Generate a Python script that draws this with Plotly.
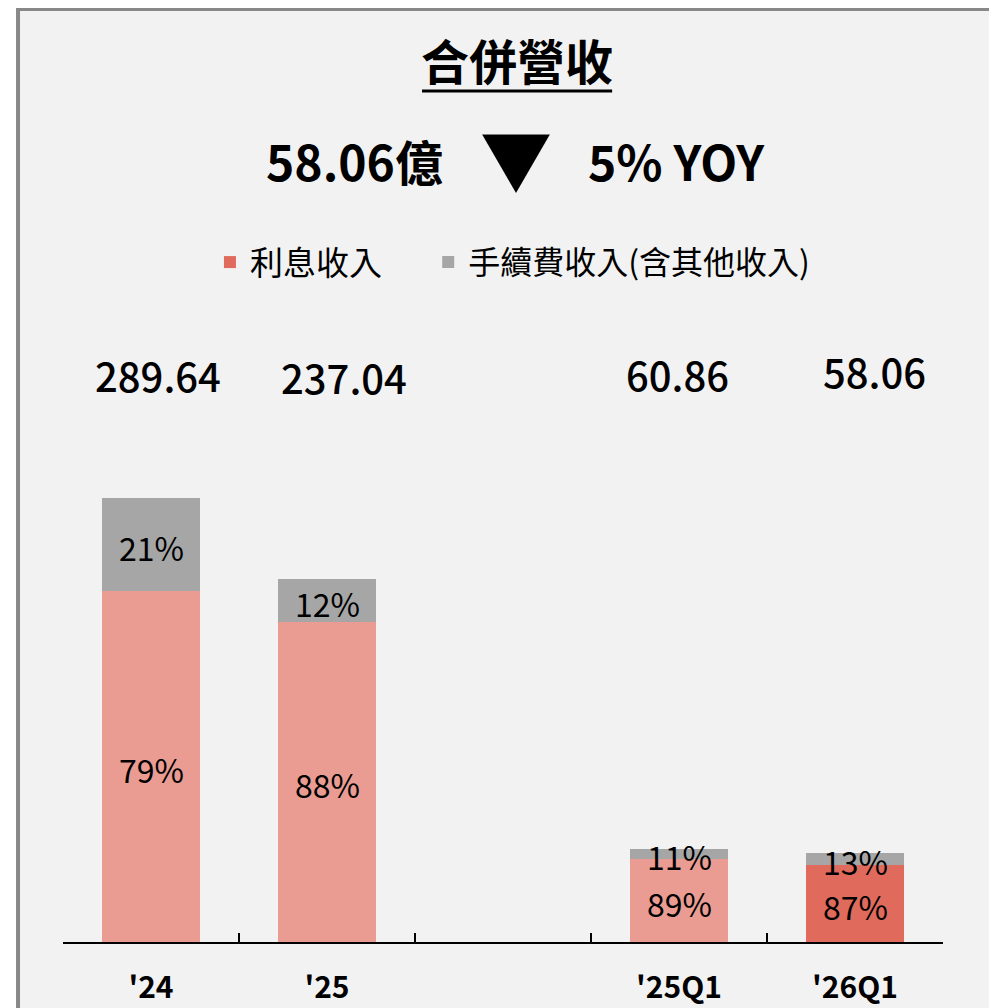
import plotly.graph_objects as go


CATEGORIES = ["'24", "'25", " ", "'25Q1", "'26Q1"]
TOTALS = [289.64, 237.04, None, 60.86, 58.06]
INTEREST_SHARE = [79, 88, None, 89, 87]
FEE_SHARE = [21, 12, None, 11, 13]

HEADLINE_VALUE = "58.06億"
HEADLINE_YOY = "5% YOY"

FONT = "Noto Sans CJK TC"
TOTAL_XSHIFT = [7, 17, 0, -2, 19]  # labels sit a little off-centre in the original
TOTAL_YSHIFT = [0, -2, 0, 1, 4]


def split_segments(totals, shares):
    out = []
    for t, s in zip(totals, shares):
        out.append(None if t is None else t * s / 100)
    return out


def create_revenue_chart():
    interest = split_segments(TOTALS, INTEREST_SHARE)
    fee = split_segments(TOTALS, FEE_SHARE)

    # latest quarter gets the darker colour
    interest_dark = [v if c == "'26Q1" else None for c, v in zip(CATEGORIES, interest)]
    interest_light = [None if c == "'26Q1" else v for c, v in zip(CATEGORIES, interest)]

    fig = go.Figure()
    fig.add_trace(go.Bar(
        x=CATEGORIES,
        y=interest_dark,
        name="利息收入",
        legend="legend",
        marker=dict(color="#e06b5c", line=dict(width=0))
    ))
    fig.add_trace(go.Bar(
        x=CATEGORIES,
        y=interest_light,
        name="利息收入",
        showlegend=False,
        marker=dict(color="#ea9c92", line=dict(width=0))
    ))
    fig.add_trace(go.Bar(
        x=CATEGORIES,
        y=fee,
        name="手續費收入(含其他收入)",
        legend="legend2",
        marker=dict(color="#a6a6a6", line=dict(width=0))
    ))

    # percentage labels inside the segments, totals above
    rows = zip(CATEGORIES, TOTALS, interest, fee, INTEREST_SHARE, FEE_SHARE, TOTAL_XSHIFT, TOTAL_YSHIFT)
    for c, t, i, f, ps_i, ps_f, dx, dy in rows:
        if t is None:
            continue
        fig.add_annotation(x=c, y=i / 2 - 1.5, text=f"{ps_i}%", showarrow=False,
                           font=dict(size=32, color="black", family=FONT))
        fig.add_annotation(x=c, y=i + f / 2 - 1.5, text=f"{ps_f}%", showarrow=False,
                           font=dict(size=32, color="black", family=FONT))
        fig.add_annotation(x=c, y=370, text=f"{t:.2f}", showarrow=False, xshift=dx, yshift=dy,
                           font=dict(size=40, color="black", family=FONT, weight=500))

    # headline
    fig.add_annotation(xref="paper", yref="paper", x=0.5159, y=1.375, xanchor="center", yanchor="middle",
                       text="<b>合併營收</b>", showarrow=False,
                       font=dict(size=48, color="black", family=FONT))
    fig.add_shape(type="line", xref="paper", yref="paper", x0=0.408, x1=0.624, y0=1.3255, y1=1.3255,
                  line=dict(color="black", width=3))
    fig.add_annotation(xref="paper", yref="paper", x=0.3307, y=1.218, xanchor="center", yanchor="middle",
                       text=f"<b>{HEADLINE_VALUE}</b>", showarrow=False,
                       font=dict(size=48, color="black", family=FONT))
    fig.add_annotation(xref="paper", yref="paper", x=0.5148, y=1.223, xanchor="center", yanchor="middle",
                       text="▼", showarrow=False,
                       font=dict(size=72, color="black", family=FONT))
    fig.add_annotation(xref="paper", yref="paper", x=0.6966, y=1.218, xanchor="center", yanchor="middle",
                       text=f"<b>{HEADLINE_YOY}</b>", showarrow=False,
                       font=dict(size=48, color="black", family=FONT))

    # frame
    fig.add_shape(type="rect", xref="paper", yref="paper", x0=-0.0511, x1=1.2, y0=-0.5, y1=1.4533,
                  line=dict(color="#888888", width=4), fillcolor="#f2f2f2", layer="below")

    legend_style = dict(orientation="h", xanchor="left", y=1.059, yanchor="middle",
                        bgcolor="rgba(0,0,0,0)", itemwidth=30)

    fig.update_layout(
        width=997,
        height=1008,
        barmode="stack",
        bargap=0.44,
        paper_bgcolor="white",
        plot_bgcolor="rgba(0,0,0,0)",
        font=dict(family=FONT, color="black"),
        margin=dict(l=55, r=62, t=292, b=74),
        legend=dict(x=0.167, font=dict(size=33, family=FONT), **legend_style),
        legend2=dict(x=0.415, font=dict(size=32, family=FONT), **legend_style),
        xaxis=dict(
            type="category",
            tickson="boundaries",
            ticks="inside",
            ticklen=9,
            tickwidth=2,
            tickcolor="black",
            showline=True,
            linecolor="black",
            linewidth=2,
            showgrid=False,
            automargin=False,
            tickfont=dict(size=30, family=FONT),
            tickvals=CATEGORIES,
            ticktext=[f"<b>{c}</b>" for c in CATEGORIES],
            ticklabelstandoff=18,
            fixedrange=True
        ),
        yaxis=dict(range=[0, 419], visible=False, automargin=False, fixedrange=True),
        showlegend=True
    )

    return fig


fig = create_revenue_chart()
fig.write_html("out.html")
